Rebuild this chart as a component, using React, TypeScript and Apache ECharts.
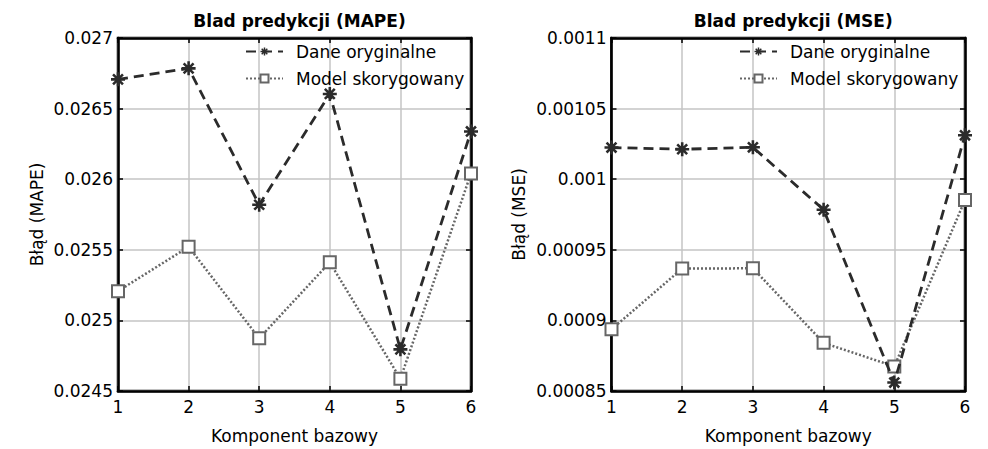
import React, { useEffect, useRef } from "react";
import * as echarts from "echarts";

const xValues = [1, 2, 3, 4, 5, 6];
const mapeOriginal = [0.026707, 0.026785, 0.025819, 0.026604, 0.024795, 0.026338];
const mapeCorrected = [0.025207, 0.025521, 0.024873, 0.025411, 0.024587, 0.026041];
const mseOriginal = [0.0010224, 0.0010212, 0.0010226, 0.0009784, 0.000856, 0.0010311];
const mseCorrected = [0.0008937, 0.0009367, 0.0009369, 0.0008841, 0.0008674, 0.0009853];

const titles = ["Blad predykcji (MAPE)", "Blad predykcji (MSE)"];
const yNames = ["Błąd (MAPE)", "Błąd (MSE)"];
const xName = "Komponent bazowy";
const seriesNames = ["Dane oryginalne", "Model skorygowany"];

const ASTERISK =
  "path://M-1.1,-6L1.1,-6L1.1,6L-1.1,6Z" +
  "M-6,-1.1L6,-1.1L6,1.1L-6,1.1Z" +
  "M-3.465,-5.021L5.021,3.465L3.465,5.021L-5.021,-3.465Z" +
  "M-5.021,3.465L3.465,-5.021L5.021,-3.465L-3.465,5.021Z";

const FONT = "DejaVu Sans";

export default function App() {
  const ref = useRef<HTMLDivElement>(null);
  useEffect(() => {
    document.body.style.margin = "0";
    const chart = echarts.init(ref.current!, null, { renderer: "svg" });
    const grids = [
      { left: 118, top: 38, width: 353, height: 364 },
      { left: 611.5, top: 38, width: 353.5, height: 364 },
    ];
    const yRanges = [
      { min: 0.0245, max: 0.027, interval: 0.0005, digits: 5 },
      { min: 0.00085, max: 0.0011, interval: 0.00005, digits: 6 },
    ];
    const dataSets = [
      [mapeOriginal, mapeCorrected],
      [mseOriginal, mseCorrected],
    ];
    const labelStyle = { fontFamily: FONT, fontSize: 17, color: "#000" };
    const xAxes: any[] = [];
    const yAxes: any[] = [];
    const series: any[] = [];
    const gridOpts: any[] = [];
    const titleOpts: any[] = [];
    const legendOpts: any[] = [];
    grids.forEach((g, i) => {
      gridOpts.push({
        ...g,
        show: true,
        borderColor: "#000",
        borderWidth: 2.5,
        backgroundColor: "transparent",
      });
      titleOpts.push({
        text: titles[i],
        left: g.left + g.width / 2,
        textAlign: "center",
        top: 7,
        textStyle: { fontFamily: FONT, fontSize: 17, fontWeight: "bold", color: "#000" },
      });
      legendOpts.push({
        data: seriesNames,
        orient: "vertical",
        left: i === 0 ? 240 : 734,
        top: 38,
        itemWidth: 37,
        itemHeight: 10,
        itemGap: 10,
        textStyle: {
          fontFamily: FONT,
          fontSize: 17,
          color: "#000",
          lineHeight: 17,
          padding: [0, 0, 0, 8],
        },
        selectedMode: false,
      });
      const r = yRanges[i];
      xAxes.push({
        type: "value",
        gridIndex: i,
        min: 1,
        max: 6,
        interval: 1,
        name: xName,
        nameLocation: "middle",
        nameGap: 36,
        nameTextStyle: { ...labelStyle },
        axisLine: { show: true, lineStyle: { color: "#000", width: 2.5 } },
        axisTick: { show: true, inside: true, length: 5, lineStyle: { color: "#000", width: 1.5 } },
        axisLabel: { ...labelStyle, margin: 7 },
        splitLine: { show: true, lineStyle: { color: "#c4c4c4", width: 1.5 } },
      });
      xAxes.push({
        type: "value",
        gridIndex: i,
        position: "top",
        min: 1,
        max: 6,
        interval: 1,
        axisLine: { show: true, lineStyle: { color: "#000", width: 2.5 } },
        axisTick: { show: true, inside: true, length: 5, lineStyle: { color: "#000", width: 1.5 } },
        axisLabel: { show: false },
        splitLine: { show: false },
      });
      yAxes.push({
        type: "value",
        gridIndex: i,
        min: r.min,
        max: r.max,
        interval: r.interval,
        name: yNames[i],
        nameLocation: "middle",
        nameGap: i === 0 ? 73 : 84,
        nameTextStyle: { ...labelStyle },
        axisLine: { show: true, lineStyle: { color: "#000", width: 2.5 } },
        axisTick: { show: true, inside: true, length: 5, lineStyle: { color: "#000", width: 1.5 } },
        axisLabel: {
          ...labelStyle,
          margin: 5,
          formatter: (v: number) => String(Number(v.toFixed(r.digits))),
        },
        splitLine: { show: true, lineStyle: { color: "#c4c4c4", width: 1.5 } },
      });
      yAxes.push({
        type: "value",
        gridIndex: i,
        position: "right",
        min: r.min,
        max: r.max,
        interval: r.interval,
        axisLine: { show: true, lineStyle: { color: "#000", width: 2.5 } },
        axisTick: { show: true, inside: true, length: 5, lineStyle: { color: "#000", width: 1.5 } },
        axisLabel: { show: false },
        splitLine: { show: false },
      });
      const [orig, corr] = dataSets[i];
      series.push({
        name: seriesNames[1],
        type: "line",
        xAxisIndex: i * 2,
        yAxisIndex: i * 2,
        data: xValues.map((x, k) => [x, corr[k]]),
        symbol: "emptyRect",
        symbolSize: 12,
        color: "#666",
        itemStyle: { color: "#666", borderColor: "#666", borderWidth: 2.5 },
        lineStyle: { color: "#666", width: 2.5, type: [2, 2] },
        z: 3,
      });
      series.push({
        name: seriesNames[0],
        type: "line",
        xAxisIndex: i * 2,
        yAxisIndex: i * 2,
        data: xValues.map((x, k) => [x, orig[k]]),
        symbol: ASTERISK,
        symbolSize: 14,
        color: "#2b2b2b",
        itemStyle: { color: "#2b2b2b", borderWidth: 0 },
        lineStyle: { color: "#2b2b2b", width: 2.8, type: [10, 6] },
        z: 4,
      });
    });
    chart.setOption({
      animation: false,
      backgroundColor: "#fff",
      textStyle: { fontFamily: FONT, fontSize: 17 },
      title: titleOpts,
      legend: legendOpts,
      grid: gridOpts,
      xAxis: xAxes,
      yAxis: yAxes,
      series,
    });
    return () => chart.dispose();
  }, []);
  return (
    <div
      ref={ref}
      style={{ position: "absolute", left: 0, top: 0, width: 988, height: 449 }}
    />
  );
}
